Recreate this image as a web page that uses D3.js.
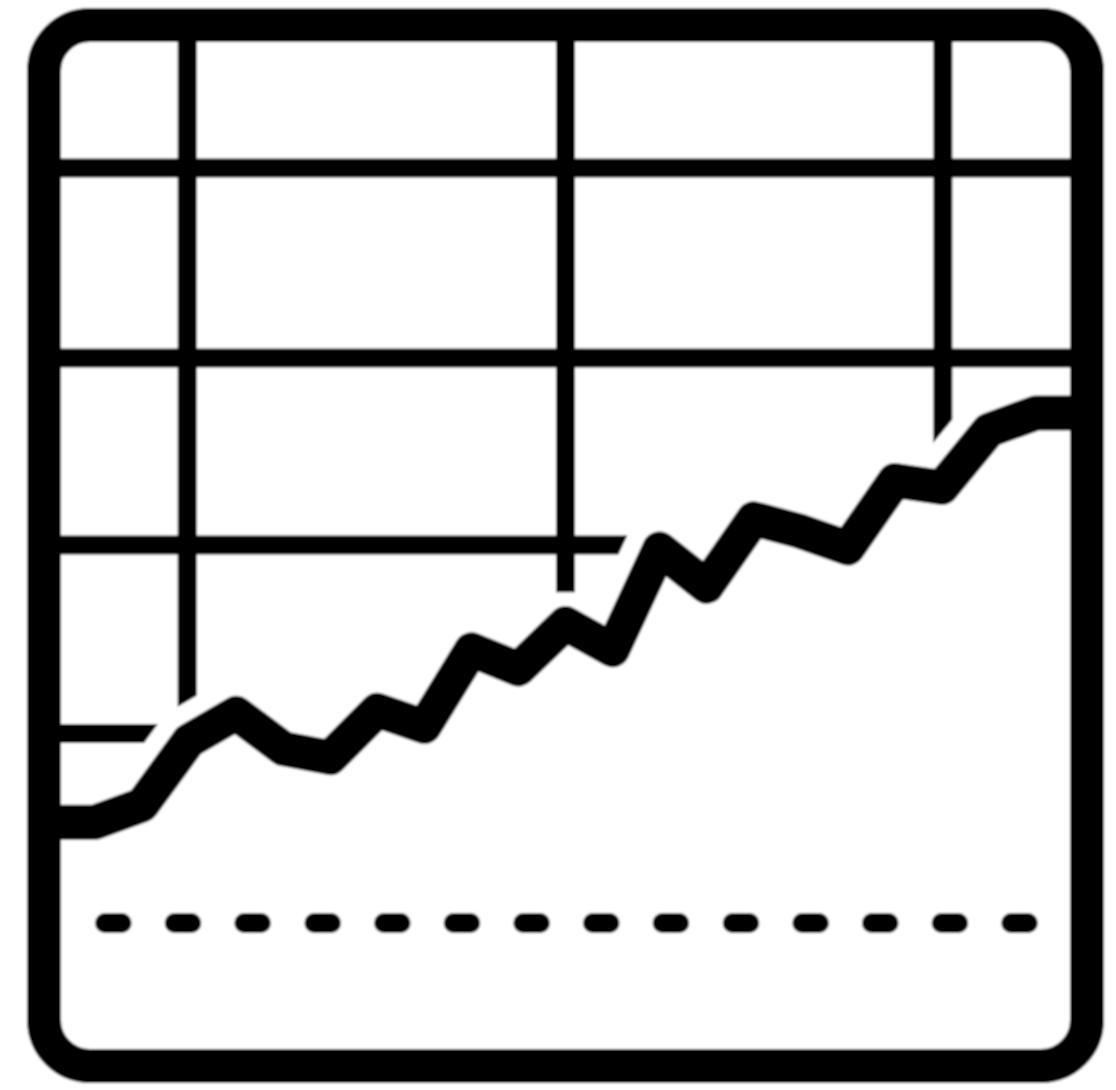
<!DOCTYPE html>
<html>
<head>
<meta charset="utf-8">
<script src="https://cdn.jsdelivr.net/npm/d3@7"></script>
<style>
  html, body { margin: 0; background: #fff; }
  svg { display: block; }
</style>
</head>
<body>
<svg width="1116" height="1090"></svg>
<script>
const periods = [-1, 0, 1, 2, 3, 4, 5, 6, 7, 8, 9, 10, 11, 12, 13, 14, 15, 16, 17, 18, 19, 20, 21];
const trend = [22.6, 22.6, 24.3, 30.7, 33.4, 29.9, 29, 33.7, 32.1, 39.7, 37.8, 42.3, 39.7, 49.7, 46, 52.7, 51.45, 49.8, 56.5, 55.8, 61.5, 63.2, 63.2];
const baseline = [0.39, 1.87, 3.35, 4.84, 6.32, 7.8, 9.28, 10.76, 12.24, 13.73, 15.21, 16.69, 18.17, 19.65];
const baselineValue = 12.6;
const xTicks = [1.96, 10, 18.02];
const xTickEnds = [30, 45.4, 55];
const yTicks = [31.4, 50.1, 68.65, 87.5];
const yTickEnds = [2, 12.5, 22, 22];

const svg = d3.select("svg");
const x = d3.scaleLinear().domain([0, 20]).range([95, 1036]);
const y = d3.scaleLinear().domain([0, 100]).range([1050, 42]);

const defs = svg.append("defs");

// the source is a scaled up bitmap, so everything gets a small blur
defs.append("filter")
  .attr("id", "soft")
  .attr("filterUnits", "userSpaceOnUse")
  .attr("x", 0).attr("y", 0)
  .attr("width", 1116).attr("height", 1090)
  .append("feGaussianBlur")
  .attr("stdDeviation", 1);

const frame = { x: 44, y: 25, width: 1043, height: 1041, rx: 46 };

defs.append("clipPath")
  .attr("id", "inside")
  .append("rect")
  .attr("x", frame.x)
  .attr("y", frame.y)
  .attr("width", frame.width)
  .attr("height", frame.height)
  .attr("rx", frame.rx);

const chart = svg.append("g").attr("filter", "url(#soft)");
chart.append("rect").attr("width", 1116).attr("height", 1090).attr("fill", "#fff");

const plot = chart.append("g").attr("clip-path", "url(#inside)");

function drawXTicks(index) {
  plot.append("g")
    .call(d3.axisTop(x).offset(0).tickValues(index.map((i) => xTicks[i])).tickFormat("").tickSize(-1090))
    .call((g) => g.select(".domain").remove())
    .selectAll("line")
    .attr("y2", (d, i) => y(xTickEnds[index[i]]))
    .attr("stroke", "#000")
    .attr("stroke-width", 19);
}

plot.append("g")
  .call(d3.axisLeft(y).offset(0).tickValues(yTicks).tickFormat("").tickSize(-1100))
  .call((g) => g.select(".domain").remove())
  .selectAll("line")
  .attr("x2", (d, i) => x(yTickEnds[i]))
  .attr("stroke", "#000")
  .attr("stroke-width", 19);

drawXTicks([0, 2]);

const pts = periods.map((p, i) => [x(p), y(trend[i])]);

// everything under the line is blanked out, the wide white stroke cuts the grid
const area = d3.area().x((d) => d[0]).y0(y(-5)).y1((d) => d[1]);
plot.append("path").attr("d", area(pts)).attr("fill", "#fff");

const line = d3.line();
plot.append("path")
  .attr("d", line(pts))
  .attr("fill", "none")
  .attr("stroke", "#fff")
  .attr("stroke-width", 70)
  .attr("stroke-linejoin", "round");

// the middle tick ends flat above the peak, so it goes on top of the white stroke
drawXTicks([1]);

plot.append("path")
  .attr("d", line(pts))
  .attr("fill", "none")
  .attr("stroke", "#000")
  .attr("stroke-width", 35)
  .attr("stroke-linejoin", "round");

plot.selectAll(".dash")
  .data(baseline)
  .join("line")
  .attr("class", "dash")
  .attr("x1", (d) => x(d) - 8.3)
  .attr("x2", (d) => x(d) + 8.3)
  .attr("y1", y(baselineValue))
  .attr("y2", y(baselineValue))
  .attr("stroke", "#000")
  .attr("stroke-width", 20)
  .attr("stroke-linecap", "round");

chart.append("rect")
  .attr("x", frame.x)
  .attr("y", frame.y)
  .attr("width", frame.width)
  .attr("height", frame.height)
  .attr("rx", frame.rx)
  .attr("fill", "none")
  .attr("stroke", "#000")
  .attr("stroke-width", 34);
</script>
</body>
</html>
